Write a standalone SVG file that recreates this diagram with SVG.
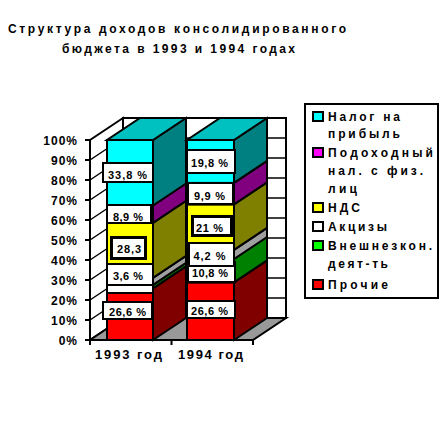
<svg xmlns="http://www.w3.org/2000/svg" width="446" height="425" viewBox="0 0 446 425">
<style>
.t{font-family:"Liberation Sans",Arial,sans-serif;font-weight:bold;fill:#000}
.ttl{font-size:12px}
.ax{font-size:12px}
.xl{font-size:13px}
.lg{font-size:12px}
.lb{font-size:11px}
.ol{stroke:#000;stroke-width:2;stroke-linejoin:miter}
.gl{stroke:#000;stroke-width:1.5;fill:none}
.box{fill:#fff;stroke:#000;stroke-width:2}
.box3{fill:#fff;stroke:#000;stroke-width:3}
</style>
<rect width="446" height="425" fill="#fff"/>

<g id="title">
<text class="t ttl" x="8" y="33" textLength="338" lengthAdjust="spacing">Структура доходов консолидированного</text>
<text class="t ttl" x="62" y="53" textLength="233" lengthAdjust="spacing">бюджета в 1993 и 1994 годах</text>
</g>

<g id="walls">
<polygon points="90,140 123,118 123,318 90,340" fill="#fff" class="ol"/>
<rect x="123" y="118" width="163" height="200" fill="#fff" class="ol"/>
<polygon points="90,340 253,340 286,318 123,318" fill="#999" class="ol"/>
<g class="gl">
<path d="M90,160 L123,138 M90,180 L123,158 M90,200 L123,178 M90,220 L123,198 M90,240 L123,218 M90,260 L123,238 M90,280 L123,258 M90,300 L123,278 M90,320 L123,298"/>
<path d="M123,138 H286 M123,158 H286 M123,178 H286 M123,198 H286 M123,218 H286 M123,238 H286 M123,258 H286 M123,278 H286 M123,298 H286"/>
</g>
</g>

<g id="axes">
<path class="ol" fill="none" d="M90,140 V341 M89,340 H253"/>
<path class="ol" fill="none" d="M85,140 H90 M85,160 H90 M85,180 H90 M85,200 H90 M85,220 H90 M85,240 H90 M85,260 H90 M85,280 H90 M85,300 H90 M85,320 H90 M85,340 H90 M90,340 V345 M171.5,340 V345 M253,340 V345"/>
<g text-anchor="end">
<text class="t ax" x="78" y="145" letter-spacing="1">100%</text>
<text class="t ax" x="78" y="165" letter-spacing="1">90%</text>
<text class="t ax" x="78" y="185" letter-spacing="1">80%</text>
<text class="t ax" x="78" y="205" letter-spacing="1">70%</text>
<text class="t ax" x="78" y="225" letter-spacing="1">60%</text>
<text class="t ax" x="78" y="245" letter-spacing="1">50%</text>
<text class="t ax" x="78" y="265" letter-spacing="1">40%</text>
<text class="t ax" x="78" y="285" letter-spacing="1">30%</text>
<text class="t ax" x="78" y="305" letter-spacing="1">20%</text>
<text class="t ax" x="78" y="325" letter-spacing="1">10%</text>
<text class="t ax" x="78" y="345" letter-spacing="1">0%</text>
</g>
<text class="t xl" x="95" y="359" textLength="67" lengthAdjust="spacing">1993 год</text>
<text class="t xl" x="178" y="359" textLength="65" lengthAdjust="spacing">1994 год</text>
</g>

<g id="bar-1993">
<polygon class="ol" fill="#800000" points="153,340 186,318 186,266.3 153,288.3"/>
<polygon class="ol" fill="#008000" points="153,288.3 186,266.3 186,262.8 153,284.8"/>
<polygon class="ol" fill="#a0a0a0" points="153,284.8 186,262.8 186,255.8 153,277.8"/>
<polygon class="ol" fill="#808000" points="153,277.8 186,255.8 186,200.8 153,222.8"/>
<polygon class="ol" fill="#800080" points="153,222.8 186,200.8 186,183.5 153,205.5"/>
<polygon class="ol" fill="#008080" points="153,205.5 186,183.5 186,118 153,140"/>
<polygon class="ol" fill="#00c0c0" points="107,140 153,140 186,118 140,118"/>
<rect class="ol" fill="#ff0000" x="107" y="288.3" width="46" height="51.7"/>
<rect class="ol" fill="#00ff00" x="107" y="284.8" width="46" height="3.5"/>
<rect class="ol" fill="#ffffff" x="107" y="277.8" width="46" height="7"/>
<rect class="ol" fill="#ffff00" x="107" y="222.8" width="46" height="55"/>
<rect class="ol" fill="#ff00ff" x="107" y="205.5" width="46" height="17.3"/>
<rect class="ol" fill="#00ffff" x="107" y="140" width="46" height="65.5"/>
</g>

<g id="bar-1994">
<polygon class="ol" fill="#800000" points="234,340 267,318 267,260.4 234,282.4"/>
<polygon class="ol" fill="#008000" points="234,282.4 267,260.4 267,237 234,259"/>
<polygon class="ol" fill="#a0a0a0" points="234,259 267,237 267,227.9 234,249.9"/>
<polygon class="ol" fill="#808000" points="234,249.9 267,227.9 267,182.4 234,204.4"/>
<polygon class="ol" fill="#800080" points="234,204.4 267,182.4 267,160.9 234,182.9"/>
<polygon class="ol" fill="#008080" points="234,182.9 267,160.9 267,118 234,140"/>
<polygon class="ol" fill="#00c0c0" points="187,140 234,140 267,118 220,118"/>
<rect class="ol" fill="#ff0000" x="187" y="282.4" width="47" height="57.6"/>
<rect class="ol" fill="#00ff00" x="187" y="259" width="47" height="23.4"/>
<rect class="ol" fill="#ffffff" x="187" y="249.9" width="47" height="9.1"/>
<rect class="ol" fill="#ffff00" x="187" y="204.4" width="47" height="45.5"/>
<rect class="ol" fill="#ff00ff" x="187" y="182.9" width="47" height="21.5"/>
<rect class="ol" fill="#00ffff" x="187" y="140" width="47" height="42.9"/>
</g>

<g id="labels-1993" text-anchor="middle">
<rect class="box" x="103" y="302" width="49" height="17"/>
<text class="t lb" x="127.5" y="316" textLength="37" lengthAdjust="spacing">26,6 %</text>
<rect class="box" x="107" y="276" width="46" height="17"/>
<rect class="box" x="107" y="264" width="46" height="21"/>
<text class="t lb" x="128" y="280" textLength="30" lengthAdjust="spacing">3,6 %</text>
<rect class="box3" x="111.5" y="237.5" width="34" height="21"/>
<text class="t lb" x="129" y="253" textLength="24" lengthAdjust="spacing">28,3</text>
<rect class="box" x="107" y="205" width="44" height="18"/>
<text class="t lb" x="128" y="221" textLength="30" lengthAdjust="spacing">8,9 %</text>
<rect class="box" x="103" y="163" width="50" height="19"/>
<text class="t lb" x="127.5" y="178.5" textLength="39" lengthAdjust="spacing">33,8 %</text>
</g>

<g id="labels-1994" text-anchor="middle">
<rect class="box" x="187" y="301" width="48" height="17"/>
<text class="t lb" x="209.5" y="315" textLength="37" lengthAdjust="spacing">26,6 %</text>
<rect class="box" x="188" y="262" width="47" height="20"/>
<text class="t lb" x="210" y="276.5" textLength="36" lengthAdjust="spacing">10,8 %</text>
<rect class="box" x="189" y="243" width="45" height="23"/>
<text class="t lb" x="209.5" y="260" textLength="32" lengthAdjust="spacing">4,2 %</text>
<rect class="box3" x="192.5" y="216.5" width="39" height="19"/>
<text class="t lb" x="209.5" y="231.5" textLength="27" lengthAdjust="spacing">21 %</text>
<rect class="box" x="188" y="183" width="45" height="21"/>
<text class="t lb" x="209.5" y="199.5" textLength="31" lengthAdjust="spacing">9,9 %</text>
<rect class="box" x="187" y="150" width="48" height="23"/>
<text class="t lb" x="209.5" y="167" textLength="37" lengthAdjust="spacing">19,8 %</text>
</g>

<g id="legend">
<rect x="305" y="104" width="133" height="194" fill="#fff" stroke="#000" stroke-width="2"/>
<rect x="313" y="112" width="10" height="9" fill="#00ffff" stroke="#000" stroke-width="2"/>
<text class="t lg" x="328" y="121" textLength="72" lengthAdjust="spacing">Налог на</text>
<text class="t lg" x="328" y="138" textLength="72" lengthAdjust="spacing">прибыль</text>
<rect x="313" y="148" width="10" height="9" fill="#ff00ff" stroke="#000" stroke-width="2"/>
<text class="t lg" x="328" y="157" textLength="105" lengthAdjust="spacing">Подоходный</text>
<text class="t lg" x="328" y="175" textLength="95" lengthAdjust="spacing">нал. с физ.</text>
<text class="t lg" x="328" y="193" textLength="29" lengthAdjust="spacing">лиц</text>
<rect x="313" y="203" width="10" height="9" fill="#ffff00" stroke="#000" stroke-width="2"/>
<text class="t lg" x="328" y="212" textLength="32" lengthAdjust="spacing">НДС</text>
<rect x="313" y="222" width="10" height="9" fill="#ffffff" stroke="#000" stroke-width="2"/>
<text class="t lg" x="328" y="231" textLength="59" lengthAdjust="spacing">Акцизы</text>
<rect x="313" y="241" width="10" height="9" fill="#00ff00" stroke="#000" stroke-width="2"/>
<text class="t lg" x="328" y="250" textLength="104" lengthAdjust="spacing">Внешнезкон.</text>
<text class="t lg" x="328" y="268" textLength="60" lengthAdjust="spacing">деят-ть</text>
<rect x="313" y="280" width="10" height="9" fill="#ff0000" stroke="#000" stroke-width="2"/>
<text class="t lg" x="328" y="289" textLength="60" lengthAdjust="spacing">Прочие</text>
</g>
</svg>
